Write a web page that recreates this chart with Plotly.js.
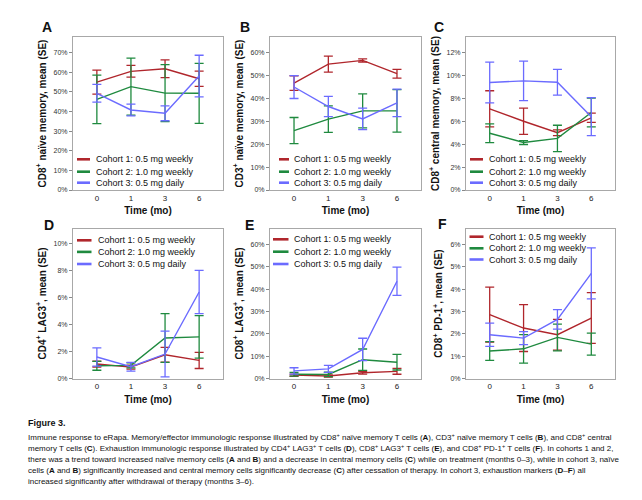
<!DOCTYPE html>
<html>
<head>
<meta charset="utf-8">
<script src="https://cdn.plot.ly/plotly-3.0.1.min.js"></script>
<style>html,body{margin:0;padding:0;background:#fff;}#chart{width:642px;height:500px;}</style>
</head>
<body>
<div id="chart"></div>
<script>
// ---------- data ----------
const months = ['0', '1', '3', '6'];
const cohortNames = ['Cohort 1: 0.5 mg weekly', 'Cohort 2: 1.0 mg weekly', 'Cohort 3: 0.5 mg daily'];

// A: CD8+ naive memory (%)
const a1 = [55.0, 60.5, 61.8, 56.7], a1se = [6.1, 3.0, 4.5, 3.9];
const a2 = [46.2, 52.7, 49.4, 49.3], a2se = [12.4, 14.5, 14.5, 15.3];
const a3 = [49.3, 40.8, 39.1, 58.1], a3se = [4.5, 3.0, 3.8, 10.6];
// B: CD3+ naive memory (%)
const b1 = [46.6, 54.9, 56.5, 50.7], b1se = [3.2, 3.5, 0.7, 1.9];
const b2 = [25.9, 30.9, 34.5, 34.5], b2se = [5.7, 5.8, 7.4, 9.3];
const b3 = [44.9, 36.4, 31.0, 38.0], b3se = [5.0, 4.4, 4.7, 6.0];
// C: CD8+ central memory (%)
const c1 = [7.08, 6.0, 5.0, 6.3], c1se = [1.58, 1.15, 0.25, 0.4];
const c2 = [4.95, 4.14, 4.5, 6.76], c2se = [0.82, 0.17, 1.15, 1.25];
const c3 = [9.38, 9.52, 9.4, 6.4], c3se = [1.78, 1.72, 1.13, 1.66];
// D: CD4+ LAG3+ (%)
const d1 = [1.07, 0.84, 1.76, 1.34], d1se = [0.22, 0.15, 0.55, 0.6];
const d2 = [0.94, 0.97, 3.0, 3.08], d2se = [0.33, 0.18, 1.8, 1.57];
const d3 = [1.59, 0.87, 1.81, 6.4], d3se = [0.67, 0.33, 1.69, 1.6];
// E: CD8+ LAG3+ (%)
const e1 = [1.5, 1.1, 2.6, 3.2], e1se = [0.5, 0.5, 0.6, 1.3];
const e2 = [1.9, 1.8, 8.4, 7.3], e2se = [0.8, 1.0, 4.8, 3.5];
const e3 = [3.4, 4.3, 13.0, 43.5], e3se = [1.4, 1.6, 5.0, 6.3];
// F: CD8+ PD-1+ (%)
const f1 = [2.86, 2.26, 1.96, 2.71], f1se = [1.23, 1.05, 0.69, 1.14];
const f2 = [1.23, 1.33, 1.84, 1.54], f2se = [0.42, 0.64, 0.6, 0.49];
const f3 = [1.96, 1.81, 2.65, 4.71], f3se = [0.52, 0.29, 0.44, 1.14];

const panelLetters = ['A', 'B', 'C', 'D', 'E', 'F'];
const yTitles = [
  'CD8<sup>+</sup> naïve memory, mean (SE)',
  'CD3<sup>+</sup> naïve memory, mean (SE)',
  'CD8<sup>+</sup> central memory, mean (SE)',
  'CD4<sup>+</sup> LAG3<sup>+</sup>, mean (SE)',
  'CD8<sup>+</sup> LAG3<sup>+</sup>, mean (SE)',
  'CD8<sup>+</sup> PD-1<sup>+</sup>, mean (SE)'
];
const xTitle = 'Time (mo)';
const yRanges = [[0, 78], [0, 66.7], [0, 13.35], [0, 11.1], [0, 67.1], [0, 6.72]];
const yDticks = [10, 10, 2, 2, 10, 1];

const panels = [
  [[a1, a1se], [a2, a2se], [a3, a3se]],
  [[b1, b1se], [b2, b2se], [b3, b3se]],
  [[c1, c1se], [c2, c2se], [c3, c3se]],
  [[d1, d1se], [d2, d2se], [d3, d3se]],
  [[e1, e1se], [e2, e2se], [e3, e3se]],
  [[f1, f1se], [f2, f2se], [f3, f3se]]
];

const captionTitle = 'Figure 3.';
const captionLines = [
  'Immune response to eRapa. Memory/effector immunologic response illustrated by CD8<sup>+</sup> naïve memory T cells (<b>A</b>), CD3<sup>+</sup> naïve memory T cells (<b>B</b>), and CD8<sup>+</sup> central',
  'memory T cells (<b>C</b>). Exhaustion immunologic response illustrated by CD4<sup>+</sup> LAG3<sup>+</sup> T cells (<b>D</b>), CD8<sup>+</sup> LAG3<sup>+</sup> T cells (<b>E</b>), and CD8<sup>+</sup> PD-1<sup>+</sup> T cells (<b>F</b>). In cohorts 1 and 2,',
  'there was a trend toward increased naïve memory cells (<b>A</b> and <b>B</b>) and a decrease in central memory cells (<b>C</b>) while on treatment (months 0–3), while in cohort 3, naïve',
  'cells (<b>A</b> and <b>B</b>) significantly increased and central memory cells significantly decrease (<b>C</b>) after cessation of therapy. In cohort 3, exhaustion markers (<b>D</b>–<b>F</b>) all',
  'increased significantly after withdrawal of therapy (months 3–6).'
];

// ---------- styling / geometry ----------
const W = 642, H = 500;
const colors = ['#b0262c', '#1f8a3f', '#6b6bff'];
const FONT = 'Liberation Sans, Arial, sans-serif';
const px = x => x / W;
const py = y => 1 - y / H;

const boxes = [ // [left, right, top, bottom] in px
  [73, 223, 37, 190], [270, 421, 37, 190], [466, 615, 37, 190],
  [73, 223, 228.5, 378.5], [270, 421, 228.5, 378.5], [466, 615, 228.5, 378.5]
];
const letterPos = [[47, 27], [245, 27], [439, 27], [49, 225], [249, 225], [442, 224]];
const legendPos = [ // [lineX0, lineX1, textX, row1Y, row2Y, row3Y]
  [77, 90, 94, 159.3, 171.7, 182.7],
  [279, 289, 292, 159.3, 171.7, 182.7],
  [470, 483, 487, 159.3, 171.7, 182.7],
  [77, 91.5, 95.5, 240.3, 251.9, 264],
  [273, 288.5, 292, 239.3, 251.7, 264],
  [469.5, 483.5, 487, 236.7, 248.3, 259.5]
];

const traces = [];
const layout = {
  width: W, height: H,
  margin: {l: 0, r: 0, t: 0, b: 0},
  paper_bgcolor: '#fff', plot_bgcolor: '#fff',
  showlegend: false,
  font: {family: FONT, color: '#222', size: 10},
  annotations: [], shapes: []
};

panels.forEach((series, i) => {
  const n = i + 1;
  const xa = 'x' + (n === 1 ? '' : n), ya = 'y' + (n === 1 ? '' : n);
  series.forEach((s, k) => {
    traces.push({
      type: 'scatter', mode: 'lines', x: months, y: s[0],
      xaxis: xa, yaxis: ya, name: cohortNames[k],
      line: {color: colors[k], width: 1.4},
      error_y: {type: 'data', array: s[1], visible: true, color: colors[k], thickness: 1.3, width: 4.5},
      hoverinfo: 'skip'
    });
  });
  const b = boxes[i];
  layout['xaxis' + (n === 1 ? '' : n)] = {
    domain: [px(b[0]), px(b[1])], anchor: ya, type: 'category',
    categoryorder: 'array', categoryarray: months,
    range: [-0.7, 3.7], showgrid: false, zeroline: false,
    showline: true, mirror: true, linecolor: '#a8a8a8', linewidth: 1,
    ticks: '', tickfont: {size: 8, color: '#222', family: FONT}, fixedrange: true,
    title: {text: '<b>' + xTitle + '</b>', font: {size: 10, color: '#111', family: FONT}, standoff: 5}
  };
  layout['yaxis' + (n === 1 ? '' : n)] = {
    domain: [py(b[3]), py(b[2])], anchor: xa,
    range: yRanges[i], dtick: yDticks[i], tick0: 0, ticksuffix: '%',
    showgrid: false, zeroline: false,
    showline: true, mirror: true, linecolor: '#a8a8a8', linewidth: 1,
    ticks: 'outside', ticklen: 3, tickcolor: '#888', tickwidth: 1,
    tickfont: {size: 7, color: '#333', family: FONT}, fixedrange: true,
    title: {text: '<b>' + yTitles[i] + '</b>', font: {size: 10, color: '#111', family: FONT}, standoff: 5}
  };
  // panel letter
  layout.annotations.push({
    xref: 'paper', yref: 'paper', x: px(letterPos[i][0]), y: py(letterPos[i][1]),
    xanchor: 'center', yanchor: 'middle', showarrow: false, align: 'center',
    text: '<b>' + panelLetters[i] + '</b>', font: {size: 14, color: '#111', family: FONT}
  });
  // legend (drawn as short line keys + labels, like the reference)
  const L = legendPos[i];
  for (let k = 0; k < 3; k++) {
    layout.shapes.push({
      type: 'line', xref: 'paper', yref: 'paper',
      x0: px(L[0]), x1: px(L[1]), y0: py(L[3 + k]), y1: py(L[3 + k]),
      line: {color: colors[k], width: 2.6}
    });
    layout.annotations.push({
      xref: 'paper', yref: 'paper', x: px(L[2]), y: py(L[3 + k]),
      xanchor: 'left', yanchor: 'middle', showarrow: false, align: 'left',
      text: cohortNames[k], font: {size: 9, color: '#111', family: FONT}
    });
  }
});

// caption
layout.annotations.push({
  xref: 'paper', yref: 'paper', x: px(26), y: py(423),
  xanchor: 'left', yanchor: 'middle', showarrow: false, align: 'left',
  text: '<b>' + captionTitle + '</b>', font: {size: 9, color: '#111', family: FONT}
});
captionLines.forEach((t, j) => {
  layout.annotations.push({
    xref: 'paper', yref: 'paper', x: px(26), y: py(437 + j * 11),
    xanchor: 'left', yanchor: 'middle', showarrow: false, align: 'left',
    text: t, font: {size: 8, color: '#111', family: FONT}
  });
});

Plotly.newPlot('chart', traces, layout, {staticPlot: true, displayModeBar: false});
</script>
</body>
</html>
